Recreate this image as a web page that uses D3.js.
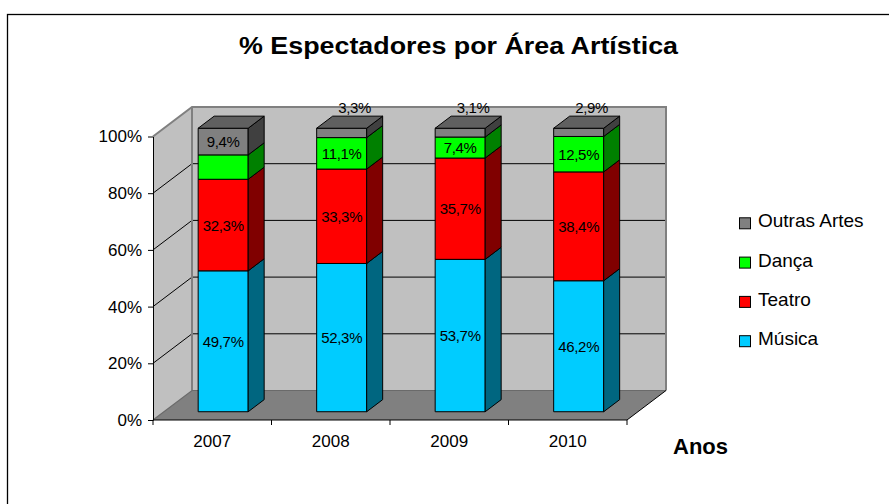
<!DOCTYPE html>
<html><head><meta charset="utf-8">
<script src="https://cdn.jsdelivr.net/npm/d3@7"></script>
<style>
html,body{margin:0;padding:0;background:#fff;}
svg{display:block;font-family:"Liberation Sans",Arial,sans-serif;}
</style></head>
<body><svg id="c" width="889" height="504"></svg>
<script>
const years = ["2007", "2008", "2009", "2010"];
const seriesNames = ["Música", "Teatro", "Dança", "Outras Artes"];
const musica = [49.7, 52.3, 53.7, 46.2];
const teatro = [32.3, 33.3, 35.7, 38.4];
const danca = [8.6, 11.1, 7.4, 12.5];
const outras = [9.4, 3.3, 3.1, 2.9];
const yTicks = [0, 20, 40, 60, 80, 100];
const hiddenLabels = [["Dança", "2007"]];

const frontColors = {"Música": "#00CCFF", "Teatro": "#FF0000", "Dança": "#00FF00", "Outras Artes": "#808080"};
const sideColors  = {"Música": "#006680", "Teatro": "#800000", "Dança": "#008000", "Outras Artes": "#404040"};
const topColors   = {"Música": "#00a3cc", "Teatro": "#cc0000", "Dança": "#00cc00", "Outras Artes": "#606060"};

const svg = d3.select("#c");
const rows = years.map((y, i) => ({year: y, "Música": musica[i], "Teatro": teatro[i], "Dança": danca[i], "Outras Artes": outras[i]}));
const stack = d3.stack().keys(seriesNames).offset(d3.stackOffsetExpand)(rows);

// geometry
const X0 = 153, X1 = 627, Y0 = 420, Y1 = 136.5;
const DX = 39, DY = -29.5;   // full depth offset
const F1 = 0.28, F2 = 0.69;  // bar front/back depth fractions
const P = (x, y, f) => [x + f * DX, y + f * DY];
const pts = a => a.map(p => p.join(",")).join(" ");

const x = d3.scaleBand().domain(years).range([X0, X1]).paddingInner(0.578).paddingOuter(0.289);
const y = d3.scaleLinear().domain([0, 1]).range([Y0, Y1]);
const yPct = d3.scaleLinear().domain([0, 100]).range([Y0, Y1]);

// outer frame
svg.append("rect").attr("x", 7.5).attr("y", 14.5).attr("width", 950).attr("height", 600)
  .attr("fill", "none").attr("stroke", "#000").attr("stroke-width", 1.3);

// walls
svg.append("polygon").attr("points", pts([P(X0, Y0, 0), P(X0, Y1, 0), P(X0, Y1, 1), P(X0, Y0, 1)]))
  .attr("fill", "#C0C0C0");
svg.append("polygon").attr("points", pts([P(X0, Y0, 1), P(X0, Y1, 1), P(X1, Y1, 1), P(X1, Y0, 1)]))
  .attr("fill", "#C0C0C0");
svg.append("polygon").attr("points", pts([P(X0, Y0, 0), P(X0, Y0, 1), P(X1, Y0, 1), P(X1, Y0, 0)]))
  .attr("fill", "#808080");

// gridlines
yTicks.filter(t => t > 0 && t < 100).forEach(t => {
  const yy = yPct(t);
  svg.append("polyline").attr("points", pts([P(X0, yy, 0), P(X0, yy, 1), P(X1, yy, 1)]))
    .attr("fill", "none").attr("stroke", "#000").attr("stroke-width", 1);
});
// wall edges
svg.append("polyline").attr("points", pts([P(X0, Y1, 0), P(X0, Y1, 1), P(X1, Y1, 1), P(X1, Y0, 1)]))
  .attr("fill", "none").attr("stroke", "#808080").attr("stroke-width", 2);
svg.append("line").attr("x1", P(X0, Y1, 1)[0]).attr("y1", P(X0, Y1, 1)[1]).attr("x2", P(X0, Y0, 1)[0]).attr("y2", P(X0, Y0, 1)[1])
  .attr("stroke", "#808080").attr("stroke-width", 2);
svg.append("polyline").attr("points", pts([P(X0, Y0, 0), P(X0, Y0, 1), P(X1, Y0, 1)]))
  .attr("fill", "none").attr("stroke", "#6a6a6a").attr("stroke-width", 1.2);
svg.append("line").attr("x1", P(X1, Y0, 0)[0]).attr("y1", P(X1, Y0, 0)[1]).attr("x2", P(X1, Y0, 1)[0]).attr("y2", P(X1, Y0, 1)[1])
  .attr("stroke", "#000").attr("stroke-width", 1);

// bars
const bw = x.bandwidth();
const labels = [];
years.forEach((yr, i) => {
  const xa = x(yr), xb = xa + bw;
  stack.forEach((s, si) => {
    const key = s.key;
    const lo = y(s[i][0]), hi = y(s[i][1]);
    const g = svg.append("g");
    g.append("polygon").attr("points", pts([P(xa, lo, F1), P(xb, lo, F1), P(xb, hi, F1), P(xa, hi, F1)]))
      .attr("fill", frontColors[key]).attr("stroke", "#000").attr("stroke-width", 1).attr("stroke-linejoin", "round");
    g.append("polygon").attr("points", pts([P(xb, lo, F1), P(xb, hi, F1), P(xb, hi, F2), P(xb, lo, F2)]))
      .attr("fill", sideColors[key]).attr("stroke", "#000").attr("stroke-width", 1).attr("stroke-linejoin", "round");
    if (si === stack.length - 1) {
      g.append("polygon").attr("points", pts([P(xa, hi, F1), P(xb, hi, F1), P(xb, hi, F2), P(xa, hi, F2)]))
        .attr("fill", topColors[key]).attr("stroke", "#000").attr("stroke-width", 1).attr("stroke-linejoin", "round");
    }
    const v = rows[i][key];
    if (hiddenLabels.some(h => h[0] === key && h[1] === yr)) return;
    const txt = d3.format(".1f")(v).replace(".", ",") + "%";
    if (v < 5) {
      const p = P(xa + bw / 2, hi, F2);
      labels.push({x: p[0] - 3, y: p[1] - 3, t: txt, base: "auto"});
    } else {
      const p = P(xa + bw / 2, (lo + hi) / 2, F1);
      labels.push({x: p[0], y: p[1], t: txt, base: "central"});
    }
  });
});
svg.append("g").selectAll("text").data(labels).join("text")
  .attr("x", d => d.x).attr("y", d => d.y).attr("text-anchor", "middle")
  .attr("dominant-baseline", d => d.base)
  .attr("font-size", 15).attr("letter-spacing", -0.3).attr("fill", "#000").text(d => d.t);

// y axis
const yAxis = svg.append("g").attr("transform", `translate(${X0},0)`)
  .call(d3.axisLeft(yPct).tickValues(yTicks).tickSize(5).tickSizeOuter(0).tickPadding(6).tickFormat(d => d + "%"));
yAxis.select(".domain").attr("stroke", "#000");
yAxis.selectAll("text").attr("font-size", 17).attr("font-family", "Liberation Sans, Arial, sans-serif").attr("fill", "#000");

// x axis
svg.append("line").attr("x1", X0).attr("x2", X1).attr("y1", Y0).attr("y2", Y0).attr("stroke", "#000");
const step = x.step();
d3.range(years.length + 1).forEach(k => {
  const xx = X0 + k * step;
  svg.append("line").attr("x1", xx).attr("x2", xx).attr("y1", Y0).attr("y2", Y0 + 5).attr("stroke", "#000");
});
svg.append("g").selectAll("text").data(years).join("text")
  .attr("x", d => x(d) + bw / 2).attr("y", 447).attr("text-anchor", "middle")
  .attr("font-size", 17).text(d => d);

// title
svg.append("text").attr("x", 458.5).attr("y", 54).attr("text-anchor", "middle")
  .attr("font-size", 23).attr("font-weight", "bold")
  .attr("textLength", 439).attr("lengthAdjust", "spacingAndGlyphs")
  .text("% Espectadores por Área Artística");

// x axis title
svg.append("text").attr("x", 673).attr("y", 454).attr("font-size", 22).attr("font-weight", "bold").text("Anos");

// legend
const legendOrder = seriesNames.slice().reverse();
const lg = svg.append("g").selectAll("g").data(legendOrder).join("g")
  .attr("transform", (d, i) => `translate(739,${227.3 + i * 39.3})`);
lg.append("rect").attr("x", 0.5).attr("y", -9.5).attr("width", 11).attr("height", 11)
  .attr("fill", d => frontColors[d]).attr("stroke", "#000").attr("stroke-width", 1);
lg.append("text").attr("x", 19).attr("y", 0).attr("font-size", 19).text(d => d);
</script></body></html>
